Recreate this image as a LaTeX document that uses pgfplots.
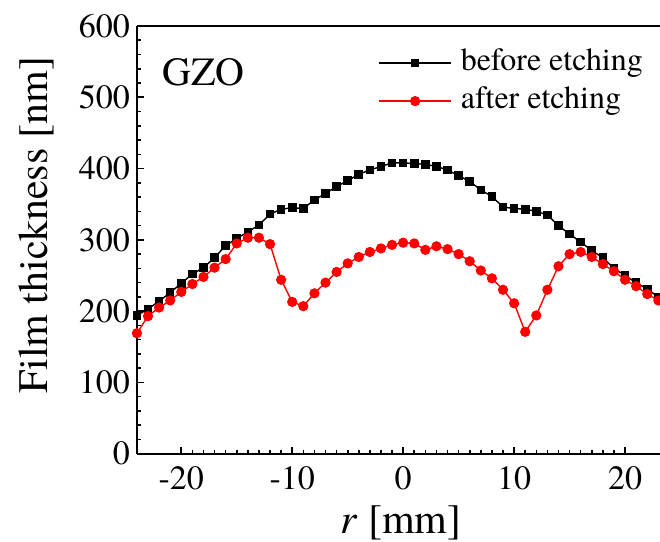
\documentclass[border=0pt]{standalone}
\usepackage{fontspec}
\setmainfont{texgyretermes}[Extension=.otf, UprightFont=*-regular, ItalicFont=*-italic, BoldFont=*-bold]
\usepackage{pgfplots}
\pgfplotsset{compat=1.18}

\pgfplotstableread{
r before after
-24 194 169
-23 203 193
-22 214 205
-21 226 215
-20 239 227
-19 252 238
-18 261 248
-17 275 261
-16 292 273
-15 302 295
-14 311 303
-13 321 303
-12 336 294
-11 343 244
-10 345 213
-9 344 207
-8 356 225
-7 365 240
-6 375 255
-5 383 267
-4 392 276
-3 398 283
-2 403 288
-1 408 293
0 408 296
1 407 295
2 406 286
3 403 291
4 398 287
5 390 280
6 382 270
7 370 257
8 361 246
9 346 230
10 344 211
11 343 171
12 340 194
13 335 230
14 320 263
15 308 280
16 297 283
17 285 276
18 275 266
19 260 256
20 250 244
21 240 235
22 231 224
23 220 215
}\thick

\begin{document}
\begin{tikzpicture}
\path[use as bounding box, clip] (-68.5pt,-44pt) rectangle (261.7pt,227pt);
\begin{axis}[
  scale only axis, width=261.7pt, height=214pt,
  xmin=-24, xmax=23.15, ymin=0, ymax=600,
  axis x line*=box, axis y line*=left,
  axis line style={line width=1.1pt},
  xtick={-20,-10,...,20}, ytick={0,100,...,600},
  minor x tick num=9, minor y tick num=4,
  tick align=inside, tick pos=left,
  major tick length=3.5pt, minor tick length=2pt,
  tick style={line width=0.8pt, black},
  /pgf/number format/assume math mode=true,
  tick label style={font=\fontsize{17}{20}\selectfont},
  xticklabel style={yshift=-3pt},
  xlabel={\textit{r} [mm]}, ylabel={Film thickness [nm]},
  label style={font=\fontsize{21}{25}\selectfont},
  xlabel style={at={(axis description cs:0.505,-0.1215)}, anchor=north, inner sep=0pt},
  ylabel style={at={(axis description cs:-0.193,0.535)}, anchor=center},
  legend style={draw=none, fill=none, at={(axis description cs:0.461,0.948)}, anchor=north west,
    font=\fontsize{16}{19}\selectfont, row sep=4.5pt, column sep=4.5pt, inner sep=0pt,
    nodes={inner sep=0pt, text height=11pt, text depth=3.5pt}},
  legend cell align=left,
  legend image code/.code={\draw[mark repeat=2, mark phase=2, #1] plot coordinates {(0pt,0pt) (18pt,0pt) (36pt,0pt)};},
]
\addplot[black, line width=0.7pt, mark=square*, mark size=1.8pt] table[x=r, y=before] {\thick};
\addlegendentry{before etching}
\addplot[red, line width=0.7pt, mark=*, mark size=2.2pt] table[x=r, y=after] {\thick};
\addlegendentry{after etching}
\node[anchor=west, inner sep=0pt, font=\fontsize{20}{24}\selectfont] at (rel axis cs:0.048,0.891) {GZO};
\end{axis}
\end{tikzpicture}
\end{document}
